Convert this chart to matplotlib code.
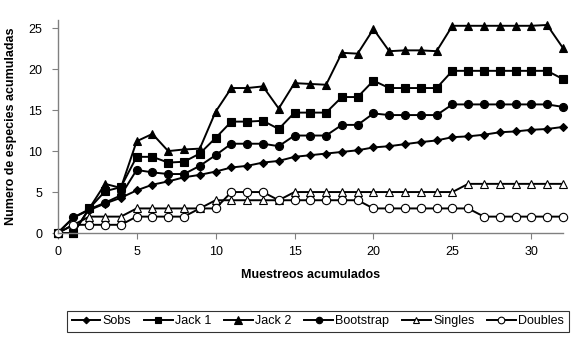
import matplotlib
matplotlib.use("Agg")
import matplotlib.pyplot as plt

plt.rcParams['font.family'] = ['Liberation Sans', 'DejaVu Sans']

muestreos = list(range(0, 33))

sobs = [0, 1.9, 2.8, 3.6, 4.3, 5.2, 5.9, 6.3, 6.8, 7.1, 7.5, 8.0, 8.2, 8.6, 8.8, 9.3,
        9.5, 9.7, 9.9, 10.1, 10.45, 10.6, 10.85, 11.1, 11.3, 11.7, 11.8, 12.0, 12.3,
        12.4, 12.6, 12.7, 12.95]
jack1 = [0, 0, 3.0, 5.1, 5.6, 9.3, 9.3, 8.6, 8.7, 9.7, 11.6, 13.6, 13.6, 13.7, 12.7,
         14.7, 14.7, 14.7, 16.6, 16.6, 18.6, 17.7, 17.7, 17.7, 17.7, 19.8, 19.8, 19.8,
         19.8, 19.8, 19.8, 19.8, 18.8]
jack2 = [0, 0, 3.0, 6.0, 5.5, 11.2, 12.1, 10.0, 10.2, 10.3, 14.8, 17.7, 17.7, 17.9,
         15.2, 18.3, 18.2, 18.1, 22.0, 21.9, 24.9, 22.2, 22.3, 22.3, 22.2, 25.3, 25.3,
         25.3, 25.3, 25.3, 25.3, 25.4, 22.6]
bootstrap = [0, 1.9, 2.9, 3.7, 4.6, 7.7, 7.4, 7.2, 7.2, 8.2, 9.5, 10.9, 10.9, 10.9,
             10.6, 11.9, 11.9, 11.9, 13.2, 13.2, 14.6, 14.4, 14.4, 14.4, 14.4, 15.7,
             15.7, 15.7, 15.7, 15.7, 15.7, 15.7, 15.4]
singles = [0, 1, 2, 2, 2, 3, 3, 3, 3, 3, 4, 4, 4, 4, 4, 5, 5, 5, 5, 5, 5, 5, 5, 5, 5,
           5, 6, 6, 6, 6, 6, 6, 6]
doubles = [0, 1, 1, 1, 1, 2, 2, 2, 2, 3, 3, 5, 5, 5, 4, 4, 4, 4, 4, 4, 3, 3, 3, 3, 3,
           3, 3, 2, 2, 2, 2, 2, 2]

series_names = ["Sobs", "Jack 1", "Jack 2", "Bootstrap", "Singles", "Doubles"]
x_ticks = [0, 5, 10, 15, 20, 25, 30]
y_ticks = [0, 5, 10, 15, 20, 25]

fig = plt.figure(figsize=(5.8, 3.4), dpi=100)
ax = fig.add_axes([0.0995, 0.3147, 0.871, 0.6263])

styles = [
    dict(marker='D', markersize=4.2, markerfacecolor='black'),
    dict(marker='s', markersize=5.8, markerfacecolor='black'),
    dict(marker='^', markersize=6.4, markerfacecolor='black'),
    dict(marker='o', markersize=5.8, markerfacecolor='black'),
    dict(marker='^', markersize=6.0, markerfacecolor='white'),
    dict(marker='o', markersize=6.0, markerfacecolor='white'),
]
data = [sobs, jack1, jack2, bootstrap, singles, doubles]
for name, vals, st in zip(series_names, data, styles):
    ax.plot(muestreos, vals, color='black', linewidth=1.4, markeredgecolor='black',
            markeredgewidth=0.8, label=name, clip_on=False, **st)

ax.set_xlim(0, 32)
ax.set_ylim(0, 26)
ax.set_xticks(x_ticks)
ax.set_yticks(y_ticks)
for s in ['top', 'right']:
    ax.spines[s].set_visible(False)
for s in ['left', 'bottom']:
    ax.spines[s].set_color('#808080')
    ax.spines[s].set_linewidth(1.0)
ax.tick_params(axis='both', direction='out', length=4, color='#808080',
               labelsize=9, labelcolor='black', pad=5)
ax.tick_params(axis='y', pad=7)

ax.set_xlabel("Muestreos acumulados", fontsize=9, fontweight='bold', labelpad=8)
ax.set_ylabel("Numero de especies acumuladas", fontsize=9, fontweight='bold', labelpad=8)

leg = fig.legend(loc='center', bbox_to_anchor=(0.548, 0.055), ncol=6, fontsize=9,
                 frameon=True, fancybox=False, edgecolor='black', handlelength=2.3,
                 handletextpad=0.2, columnspacing=1.0, borderpad=0.35,
                 markerscale=0.8)
leg.get_frame().set_linewidth(0.8)

fig.savefig("out.png", dpi=100)
